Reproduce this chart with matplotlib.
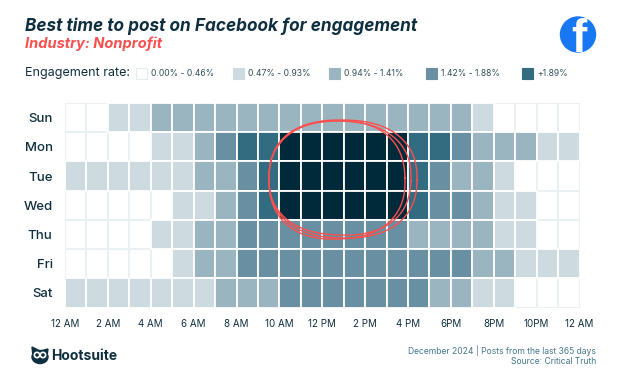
import numpy as np
import matplotlib
matplotlib.use("Agg")
import matplotlib.pyplot as plt
from matplotlib.patches import Circle, Ellipse, Polygon

days = ["Sun", "Mon", "Tue", "Wed", "Thu", "Fri", "Sat"]
hour_labels = ["12 AM", "2 AM", "4 AM", "6 AM", "8 AM", "10 AM", "12 PM", "2 PM",
               "4 PM", "6PM", "8PM", "10PM", "12 AM"]

# engagement bucket per hour, 0 = lowest, 5 = circled best hours
sun = [0, 0, 1, 1, 2, 2, 2, 2, 2, 2, 2, 2, 2, 2, 2, 2, 2, 2, 2, 1, 0, 0, 0, 0]
mon = [0, 0, 0, 0, 1, 1, 2, 3, 4, 4, 5, 5, 5, 5, 5, 5, 4, 4, 3, 2, 2, 2, 1, 1]
tue = [1, 1, 1, 1, 1, 1, 2, 2, 3, 4, 5, 5, 5, 5, 5, 5, 4, 3, 2, 2, 1, 0, 0, 0]
wed = [0, 0, 0, 0, 0, 1, 1, 2, 3, 4, 5, 5, 5, 5, 5, 5, 4, 3, 3, 2, 1, 1, 0, 0]
thu = [0, 0, 0, 0, 1, 1, 2, 2, 3, 3, 3, 3, 3, 3, 3, 3, 2, 2, 2, 2, 1, 1, 0, 0]
fri = [0, 0, 0, 0, 0, 1, 2, 2, 3, 3, 3, 3, 3, 3, 3, 3, 3, 3, 3, 2, 2, 1, 1, 1]
sat = [1, 1, 1, 1, 1, 1, 1, 2, 2, 2, 3, 3, 3, 3, 3, 3, 3, 2, 2, 1, 1, 0, 0, 0]
rows = [sun, mon, tue, wed, thu, fri, sat]

legend_labels = ["0.00% - 0.46%", "0.47% - 0.93%", "0.94% - 1.41%", "1.42% - 1.88%", "+1.89%"]
colors = ["#ffffff", "#cddae0", "#9bb5c0", "#6890a2", "#336b80", "#002a3a"]

DARK = "#0f2f3f"
RED = "#f9504f"
W, H = 620, 388

plt.rcParams["font.family"] = ["Inter", "DejaVu Sans"]
fig = plt.figure(figsize=(W / 100, H / 100), dpi=100)

ax = fig.add_axes([65 / W, 1 - 307.5 / H, 514.5 / W, 204.5 / H])
for r, row in enumerate(rows):
    for c, level in enumerate(row):
        edge = "#e9f0f2" if level == 0 else "white"
        ax.bar(c, 1, bottom=r, width=1, align="edge", color=colors[level],
               edgecolor=edge, linewidth=1.3, zorder=1 if level == 0 else 2)
ax.set_xlim(0, 24)
ax.set_ylim(7, 0)
ax.set_xticks(np.arange(0, 25, 2))
ax.set_xticklabels(hour_labels, fontsize=7.0, color=DARK)
ax.set_yticks(np.arange(7) + 0.5)
ax.set_yticklabels(days, fontsize=9.5, color=DARK, fontweight="medium")
ax.tick_params(length=0)
ax.tick_params(axis="x", pad=8)
ax.tick_params(axis="y", pad=9)
for s in ax.spines.values():
    s.set_visible(False)

# whole figure in pixels, on top, for the header, legend, scribble and footer
page = fig.add_axes([0, 0, 1, 1], zorder=5)
page.set_xlim(0, W)
page.set_ylim(H, 0)
page.axis("off")

# hand drawn circle round the best hours
t = np.linspace(0, 2 * np.pi, 300)
loops = [(337, 180, 68, 59, -2.0), (343, 179, 74, 59, 1.0), (340, 178, 71, 57, 2.5)]
for cx, cy, a, b, rot in loops:
    x = a * np.sign(np.cos(t)) * np.abs(np.cos(t)) ** 0.85
    y = b * np.sign(np.sin(t)) * np.abs(np.sin(t)) ** 0.85
    ang = np.radians(rot)
    page.plot(cx + x * np.cos(ang) - y * np.sin(ang), cy + x * np.sin(ang) + y * np.cos(ang),
              color=RED, lw=1.0)

page.text(25, 26, "Best time to post on Facebook for engagement", fontsize=12.37,
          fontweight="bold", style="italic", color=DARK, va="center")
page.text(25, 44, "Industry: Nonprofit", fontsize=10.5, fontweight="bold", style="italic",
          color=RED, va="center")

# legend
page.text(25, 73, "Engagement rate:", fontsize=9, color=DARK, va="center")
legend_x = [136, 233, 329, 426, 522]
for x0, col, lab in zip(legend_x, colors[:5], legend_labels):
    page.add_patch(plt.Rectangle((x0, 68), 11, 11, facecolor=col,
                                 edgecolor="#e4ecef" if col == "#ffffff" else col, lw=0.8))
    page.text(x0 + 15, 73.5, lab, fontsize=6.2, color="#35505e", va="center")

# facebook logo
logo = Circle((578, 34.5), 17.5, color="#1877f2", zorder=3)
page.add_patch(logo)
f = page.text(579, 40.5, "f", fontsize=33, fontweight="bold", color="white", ha="center",
              va="center", zorder=4, family="Liberation Sans")
f.set_clip_path(logo)

# footer
page.add_patch(Ellipse((40, 357), 16, 13, color=DARK))
page.add_patch(Polygon([[32, 347], [40, 351], [48, 349], [47, 356], [33, 356]], color=DARK))
page.add_patch(Circle((37, 355), 2.8, color="white"))
page.add_patch(Circle((43, 355), 2.8, color="white"))
page.add_patch(Circle((37, 355), 1.1, color=DARK))
page.add_patch(Circle((43, 355), 1.1, color=DARK))
page.text(51, 356.5, "Hootsuite", fontsize=10, fontweight="bold", color=DARK, va="center")
page.text(596, 350, "December 2024 | Posts from the last 365 days", fontsize=6.2, color="#45788c",
          ha="right", va="center")
page.text(596, 362, "Source: Critical Truth", fontsize=6.2, color="#45788c", ha="right", va="center")

fig.savefig("out.png", dpi=100)
